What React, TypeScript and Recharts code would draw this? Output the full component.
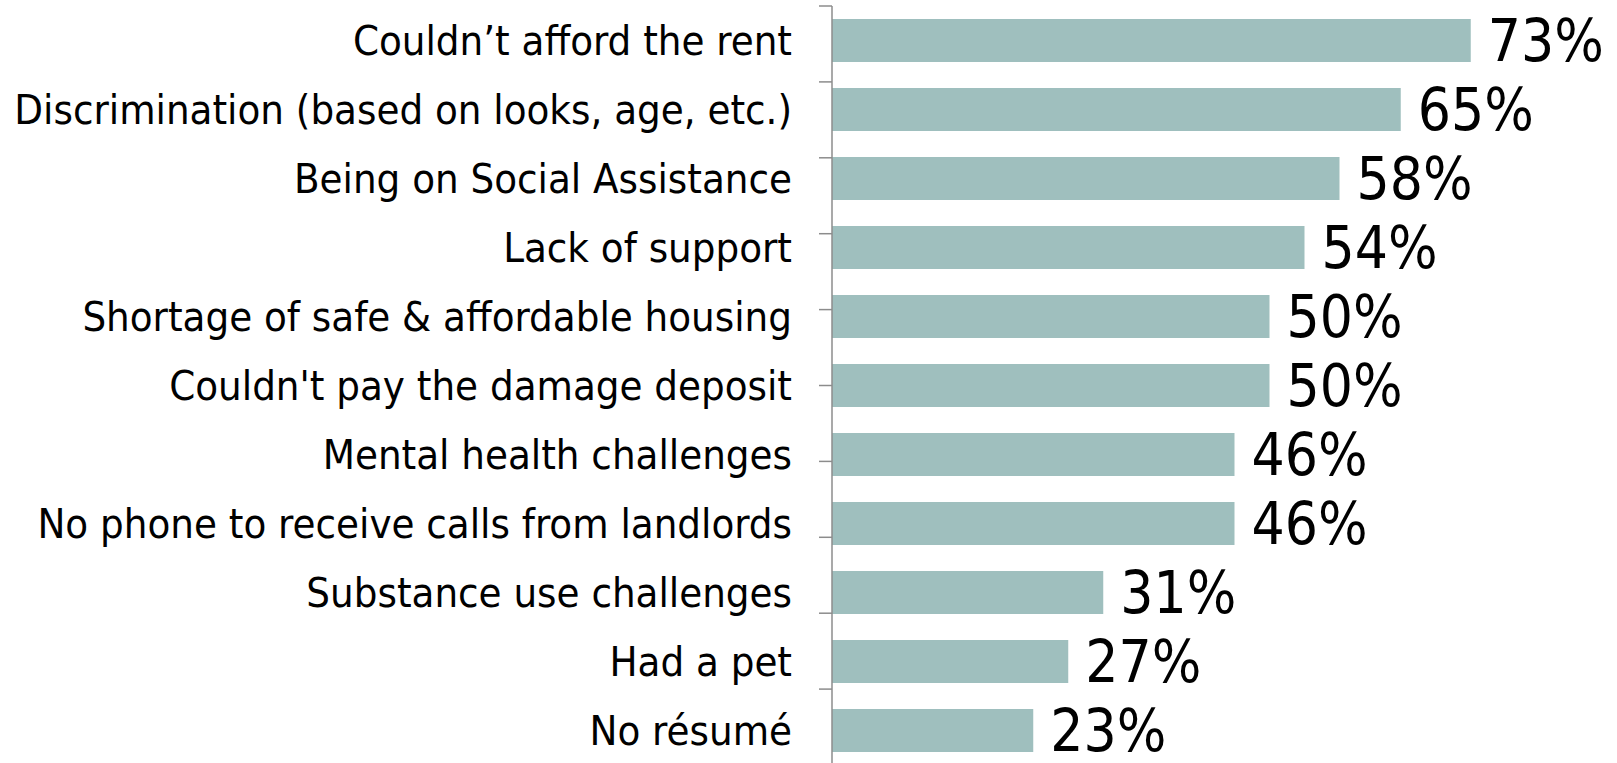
import React from "react";
import { BarChart, Bar, XAxis, YAxis, LabelList } from "recharts";

const categories = [
  "Couldn\u2019t afford the rent",
  "Discrimination (based on looks, age, etc.)",
  "Being on Social Assistance",
  "Lack of support",
  "Shortage of safe & affordable housing",
  "Couldn't pay the damage deposit",
  "Mental health challenges",
  "No phone to receive calls from landlords",
  "Substance use challenges",
  "Had a pet",
  "No r\u00e9sum\u00e9",
];
const values = [73, 65, 58, 54, 50, 50, 46, 46, 31, 27, 23];
const boundaryTicks = [0, 1, 2, 3, 4, 5, 6, 7, 8, 9, 10, 11];

const data = categories.map((name, i) => ({ name, value: values[i] }));

const FONT = "'DejaVu Sans Condensed', 'DejaVu Sans', sans-serif";

export default function App() {
  return (
    <div
      style={{
        position: "absolute",
        left: 0,
        top: 0,
        width: 1617,
        height: 763,
        overflow: "hidden",
        background: "#fff",
        fontFamily: FONT,
        fontStretch: "condensed",
      }}
    >
      <BarChart
        layout="vertical"
        width={1617}
        height={765}
        data={data}
        margin={{ top: 6, right: 85, bottom: 0, left: 0 }}
      >
        <XAxis type="number" xAxisId="x" domain={[0, 80]} hide />
        <YAxis
          yAxisId="a"
          type="number"
          orientation="left"
          domain={[0, 11]}
          ticks={boundaryTicks}
          interval={0}
          width={14}
          tickSize={13}
          tickFormatter={() => ""}
          axisLine={{ stroke: "#8c8c8c", strokeWidth: 1.5 }}
          tickLine={{ stroke: "#8c8c8c", strokeWidth: 1.5 }}
        />
        <YAxis
          yAxisId="b"
          type="category"
          dataKey="name"
          width={818}
          interval={0}
          axisLine={false}
          tickLine={false}
          tickSize={0}
          tickMargin={26}
          tick={{ fill: "#000", fontSize: 41.5, fontFamily: FONT }}
        />
        <Bar
          dataKey="value"
          xAxisId="x"
          yAxisId="b"
          fill="#9fbfbe"
          barSize={43}
          isAnimationActive={false}
        >
          <LabelList
            dataKey="value"
            position="right"
            offset={17}
            formatter={(v: number) => `${v}%`}
            style={{ fill: "#000", fontSize: 58, fontFamily: FONT }}
          />
        </Bar>
      </BarChart>
    </div>
  );
}
